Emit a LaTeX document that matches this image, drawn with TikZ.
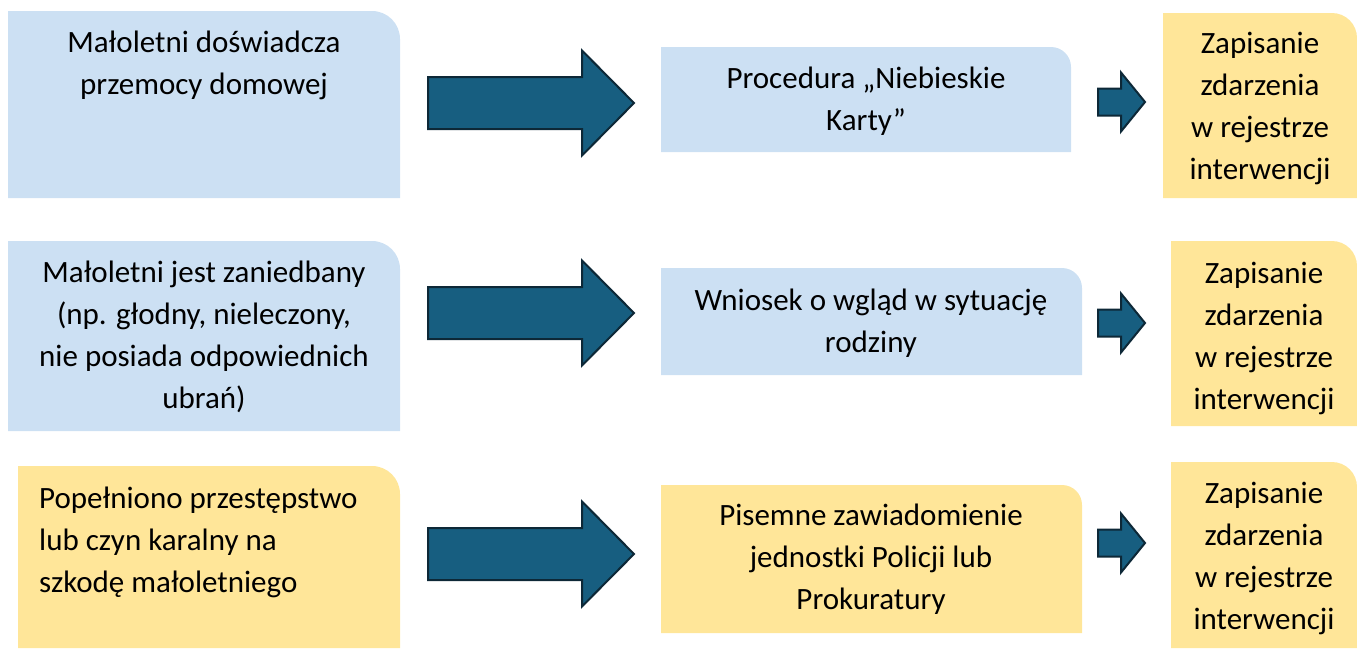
\documentclass[tikz,border=0pt]{standalone}
\usepackage{fontspec}
\setmainfont{Carlito}
\definecolor{boxblue}{RGB}{204,224,243}
\definecolor{boxyellow}{RGB}{255,230,153}
\definecolor{arrowfill}{RGB}{23,94,128}
\definecolor{arrowline}{RGB}{13,40,55}
\newcommand{\tabbox}[6]{%
  \fill[#6] (#1,-#4) -- (#1,-#2) -- ({#3-#5},-#2) arc[start angle=90,end angle=0,radius=#5] -- (#3,-#4) -- cycle;}
\tikzset{
  lbl/.style={inner sep=0pt, align=center, anchor=north, font=\fontsize{31}{42}\selectfont, text=black},
  lblleft/.style={lbl, align=left, anchor=north west},
  blockarrow/.style={fill=arrowfill, draw=arrowline, line width=2pt, line join=miter},
}
\begin{document}
\begin{tikzpicture}[x=1pt,y=1pt]
\useasboundingbox (0,0) rectangle (1357,-648);
% boxes
\tabbox{8}{11}{400}{198}{28}{boxblue}
\tabbox{661}{47}{1071}{152}{20}{boxblue}
\tabbox{1163}{13}{1357}{198}{25}{boxyellow}
\tabbox{8}{241}{400}{431}{28}{boxblue}
\tabbox{661}{268}{1082}{375}{20}{boxblue}
\tabbox{1171}{241}{1357}{426}{25}{boxyellow}
\tabbox{18}{466}{400}{648}{28}{boxyellow}
\tabbox{661}{485}{1082}{633}{20}{boxyellow}
\tabbox{1171}{462}{1357}{648}{25}{boxyellow}
% texts
\node[lbl] (a1) at (204,-26) {\rule{0pt}{26pt}Małoletni doświadcza\\przemocy domowej};
\node[lbl] (b1) at (866,-62) {\rule{0pt}{26pt}Procedura „Niebieskie\\Karty”};
\node[lbl] (c1) at (1260,-27) {\rule{0pt}{26pt}Zapisanie\\zdarzenia\\w rejestrze\\interwencji};
\node[lbl] (a2) at (204,-256) {\rule{0pt}{26pt}Małoletni jest zaniedbany\\(np. głodny, nieleczony,\\nie posiada odpowiednich\\ubrań)};
\node[lbl] (b2) at (871,-284) {\rule{0pt}{26pt}Wniosek o wgląd w sytuację\\rodziny};
\node[lbl] (c2) at (1264,-257) {\rule{0pt}{26pt}Zapisanie\\zdarzenia\\w rejestrze\\interwencji};
\node[lblleft] (a3) at (39,-482) {\rule{0pt}{26pt}Popełniono przestępstwo\\lub czyn karalny na\\szkodę małoletniego};
\node[lbl] (b3) at (871,-499) {\rule{0pt}{26pt}Pisemne zawiadomienie\\jednostki Policji lub\\Prokuratury};
\node[lbl] (c3) at (1264,-477) {\rule{0pt}{26pt}Zapisanie\\zdarzenia\\w rejestrze\\interwencji};
% big arrows
\foreach \cy in {103,313,554}{
  \begin{scope}[shift={(0,-\cy)}]
    \filldraw[blockarrow] (428,26) -- (582,26) -- (582,52.5) -- (634,0) -- (582,-52.5) -- (582,-26) -- (428,-26) -- cycle;
  \end{scope}
}
% small arrows
\foreach \cy in {102,323,543}{
  \begin{scope}[shift={(0,-\cy)}]
    \filldraw[blockarrow] (1098,13.5) -- (1121,13.5) -- (1121,29.5) -- (1145,0) -- (1121,-29.5) -- (1121,-13.5) -- (1098,-13.5) -- cycle;
  \end{scope}
}
\end{tikzpicture}
\end{document}
